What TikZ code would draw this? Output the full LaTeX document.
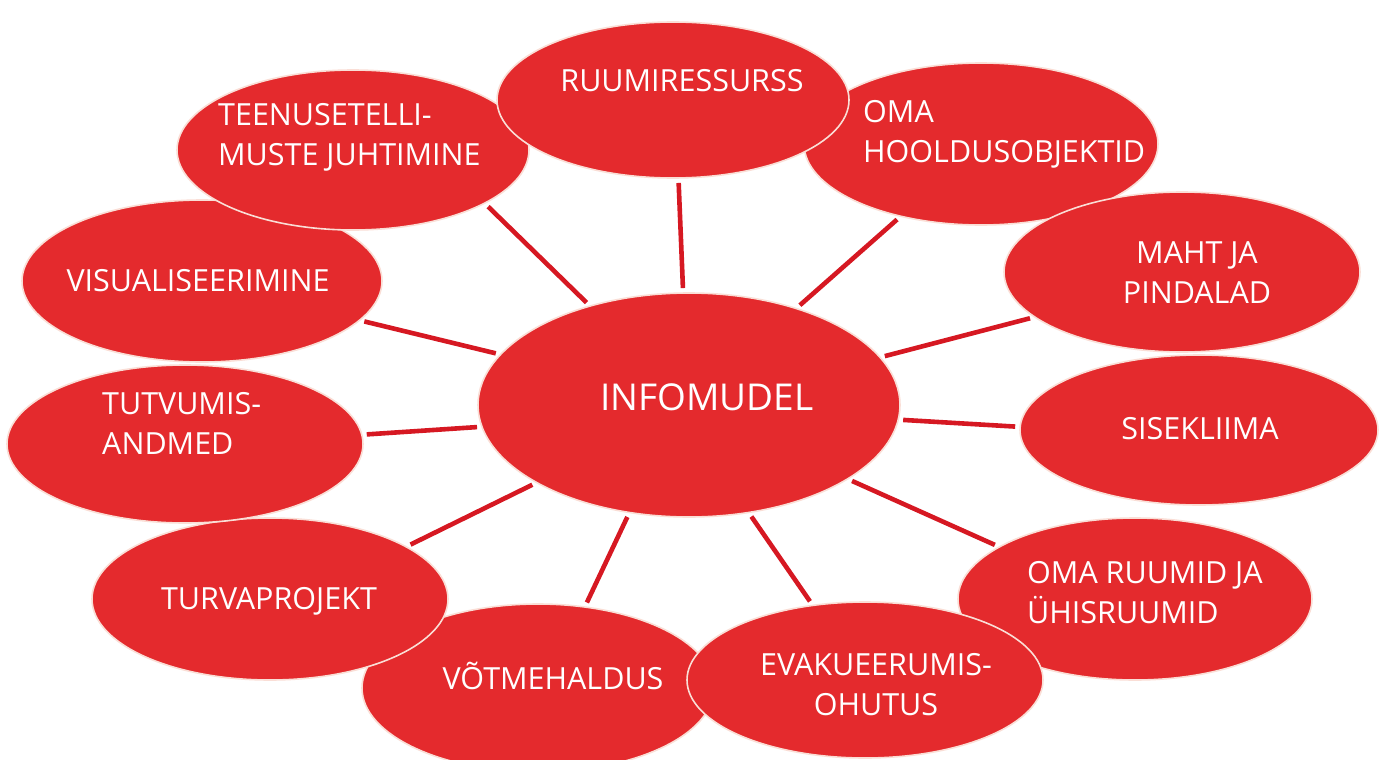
\documentclass[tikz,border=0pt]{standalone}
\usepackage{fontspec}
\setmainfont{Open Sans}
\usetikzlibrary{shapes.geometric}
\pgfdeclarelayer{background}
\pgfsetlayers{background,main}
\definecolor{bubblered}{RGB}{228,42,45}
\definecolor{linkred}{RGB}{214,24,34}
\definecolor{rim}{RGB}{250,222,214}
\begin{document}
\begin{tikzpicture}[x=1pt,y=-1pt,
  bubble/.style={ellipse, fill=bubblered, draw=rim, line width=1.6pt, inner sep=0pt, outer sep=0pt},
  lbl/.style={text=white, inner sep=0pt, font=\fontsize{30.5}{40}\selectfont},
  biglbl/.style={text=white, inner sep=0pt, font=\fontsize{37}{44}\selectfont},
  link/.style={draw=linkred, line width=4.6pt, shorten <=5pt, shorten >=5pt}]

\useasboundingbox (0,0) rectangle (1381,760);

% outer bubbles, drawn in stacking order
\node[bubble, minimum width=354pt, minimum height=162pt] (oma)    at (981,144) {};
\node[bubble, minimum width=356pt, minimum height=160pt] (maht)   at (1182,272) {};
\node[bubble, minimum width=358pt, minimum height=150pt] (sise)   at (1199,430) {};
\node[bubble, minimum width=354pt, minimum height=162pt] (ruumid) at (1135,599) {};
\node[bubble, minimum width=352pt, minimum height=168pt] (votme)  at (538,688) {};
\node[bubble, minimum width=356pt, minimum height=156pt] (evak)   at (865,680) {};
\node[bubble, minimum width=356pt, minimum height=162pt] (turva)  at (270,599) {};
\node[bubble, minimum width=356pt, minimum height=158pt] (tutv)   at (185,444) {};
\node[bubble, minimum width=360pt, minimum height=162pt] (visu)   at (202,281) {};
\node[bubble, minimum width=352pt, minimum height=160pt] (teen)   at (353,150) {};
\node[bubble, minimum width=352pt, minimum height=156pt] (ruumi)  at (673,100) {};
% central bubble
\node[bubble, minimum width=422pt, minimum height=224pt] (info)   at (689,405) {};

% white page and spokes behind the bubbles
\begin{pgfonlayer}{background}
\fill[white] (0,0) rectangle (1381,760);
\draw[link] (teen.-22.6)   -- (info.135.5);
\draw[link] (ruumi.-86.5)  -- (info.93.9);
\draw[link] (oma.-138.2)   -- (info.42.1);
\draw[link] (maht.-163.1)  -- (info.14.0);
\draw[link] (sise.179.4)   -- (info.-4.7);
\draw[link] (ruumid.159.5) -- (info.-25.8);
\draw[link] (evak.125.5)   -- (info.-61.0);
\draw[link] (votme.60.1)   -- (info.-119.0);
\draw[link] (turva.21.9)   -- (info.-153.6);
\draw[link] (tutv.3.8)     -- (info.-174.7);
\draw[link] (visu.-14.4)   -- (info.165.4);
\end{pgfonlayer}

% labels
\node[biglbl, anchor=base] (t-info) at (707,410) {INFOMUDEL};
\node[lbl, anchor=base] (t-ruumi) at (682,91) {RUUMIRESSURSS};
\node[lbl, anchor=north west, align=left] (t-oma) at (863,100) {OMA\\HOOLDUSOBJEKTID};
\node[lbl, anchor=north, align=center] (t-maht) at (1197,241) {MAHT JA\\PINDALAD};
\node[lbl, anchor=base] (t-sise) at (1200,439) {SISEKLIIMA};
\node[lbl, anchor=north west, align=left] (t-ruumid) at (1027,561) {OMA RUUMID JA\\ÜHISRUUMID};
\node[lbl, anchor=north, align=center] (t-evak) at (876,653) {EVAKUEERUMIS-\\OHUTUS};
\node[lbl, anchor=base] (t-votme) at (553,689) {VÕTMEHALDUS};
\node[lbl, anchor=base] (t-turva) at (269,609) {TURVAPROJEKT};
\node[lbl, anchor=north west, align=left] (t-tutv) at (102,392) {TUTVUMIS-\\ANDMED};
\node[lbl, anchor=base] (t-visu) at (198,291) {VISUALISEERIMINE};
\node[lbl, anchor=north west, align=left] (t-teen) at (218,103) {TEENUSETELLI-\\MUSTE JUHTIMINE};
\end{tikzpicture}
\end{document}
